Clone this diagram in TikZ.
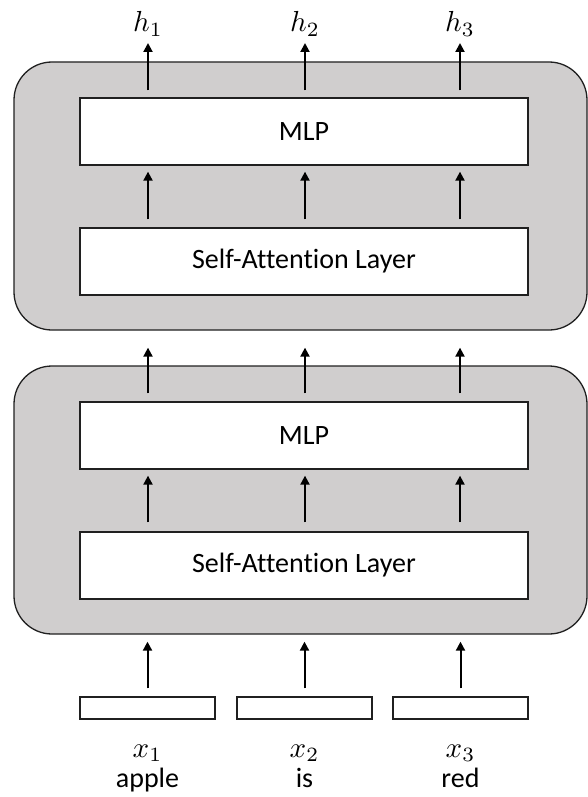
\RequirePackage{fix-cm}
\documentclass[tikz,border=0pt]{standalone}
\usepackage{graphicx}
\usepackage{fontspec}
\setmainfont{Carlito}[Ligatures=CommonOff]
\usetikzlibrary{arrows.meta}
\definecolor{blockgray}{HTML}{D0CECE}
\definecolor{edge}{HTML}{202020}
\newcommand{\biglabel}[1]{\scalebox{2.9}{$#1$}}

\begin{document}
\begin{tikzpicture}[x=1pt,y=-1pt,
  block/.style={draw=edge, line width=1.3pt, fill=blockgray, rounded corners=38pt,
    minimum width=573pt, minimum height=268pt, inner sep=0pt},
  layerbox/.style={draw=edge, line width=1.3pt, fill=white, inner sep=0pt,
    minimum width=448pt, minimum height=67pt, font=\fontsize{28}{33}\selectfont},
  tokenbox/.style={draw=edge, line width=1.3pt, fill=white, inner sep=0pt,
    minimum width=135pt, minimum height=22pt},
  mathlabel/.style={anchor=base, inner sep=0pt, font=\normalsize},
  wordlabel/.style={anchor=base, inner sep=0pt, font=\fontsize{28}{33}\selectfont},
  flow/.style={-{Triangle[length=9pt,width=9pt]}, line width=2pt, black},
]
\useasboundingbox (0,0) rectangle (588,797);

% two stacked transformer blocks
\node[block] (blockA) at (300.5,196) {};
\node[block] (blockB) at (300.5,500) {};

% layers inside the upper block
\node[layerbox] (mlpA) at (304,131.5) {MLP};
\node[layerbox] (saA)  at (304,261.5) {Self-Attention Layer};

% layers inside the lower block
\node[layerbox] (mlpB) at (304,435.5) {MLP};
\node[layerbox] (saB)  at (304,565.5) {Self-Attention Layer};

% input token boxes
\node[tokenbox] (tokA) at (147.5,708) {};
\node[tokenbox] (tokB) at (304.5,708) {};
\node[tokenbox] (tokC) at (460.5,708) {};

% token labels
\node[mathlabel] (xA) at (147.5,757) {\biglabel{x_1}};
\node[mathlabel] (xB) at (304.5,757) {\biglabel{x_2}};
\node[mathlabel] (xC) at (460.5,757) {\biglabel{x_3}};
\node[wordlabel] (wA) at (147.5,787) {apple};
\node[wordlabel] (wB) at (304.5,787) {is};
\node[wordlabel] (wC) at (460.5,787) {red};

% output labels
\node[mathlabel] (hA) at (148,32) {\biglabel{h_1}};
\node[mathlabel] (hB) at (305,32) {\biglabel{h_2}};
\node[mathlabel] (hC) at (460,32) {\biglabel{h_3}};

\foreach \t/\h in {tokA/hA, tokB/hB, tokC/hC} {
  % token into lower block
  \draw[flow, shorten <=8pt, shorten >=7pt] (\t.north) -- (blockB.south -| \t.north);
  % self-attention to MLP, lower block
  \draw[flow, shorten <=9pt, shorten >=6pt] (saB.north -| \h) -- (mlpB.south -| \h);
  % lower block to upper block
  \draw[flow, shorten <=8pt, shorten >=17pt] (mlpB.north -| \h) -- (blockA.south -| \h);
  % self-attention to MLP, upper block
  \draw[flow, shorten <=8pt, shorten >=6pt] (saA.north -| \h) -- (mlpA.south -| \h);
  % MLP to outputs
  \draw[flow, shorten <=7pt, shorten >=11pt] (mlpA.north -| \h) -- (\h.base);
}
\end{tikzpicture}
\end{document}
